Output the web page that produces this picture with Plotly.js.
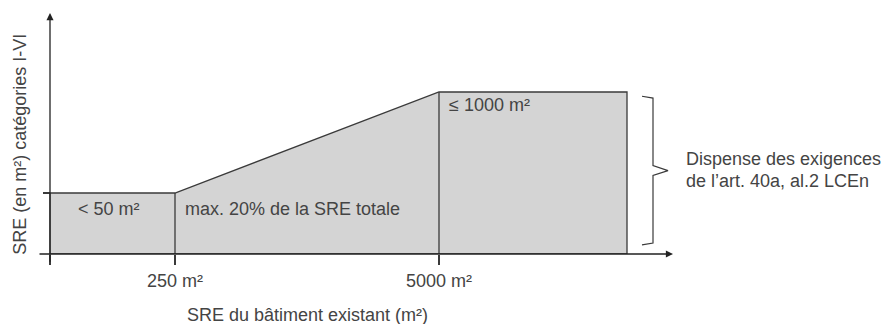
<!DOCTYPE html>
<html>
<head>
<meta charset="utf-8">
<script src="https://cdn.plot.ly/plotly-3.0.1.min.js"></script>
<style>html,body{margin:0;padding:0;background:#fff;}#chart{width:889px;height:324px;}</style>
</head>
<body>
<div id="chart"></div>
<script>
// Schematic x positions of the thresholds (origin, 250 m², 5000 m², end of chart)
const xStops = [0, 1, 3.112, 4.616];
const xTickLabels = ['', '250 m²', '5000 m²'];
// Schematic y levels: lower step (< 50 m²) and upper plateau (≤ 1000 m²)
const yLevels = [1, 2.656];
const zoneLabels = ['< 50 m²', 'max. 20% de la SRE totale', '≤ 1000 m²'];
const xTitle = 'SRE du bâtiment existant (m²)';
const yTitle = 'SRE (en m²) catégories I-VI';
const braceText = ['Dispense des exigences', 'de l’art. 40a, al.2 LCEn'];

const lineCol = '#3a3a3a';
const fillCol = '#d4d4d4';
const txtCol = '#444444';
const fnt = {family: 'Liberation Sans, Arial, sans-serif', size: 18, color: txtCol};

// Filled area polygon
const polyX = [xStops[0], xStops[0], xStops[1], xStops[2], xStops[3], xStops[3], xStops[0]];
const polyY = [0, yLevels[0], yLevels[0], yLevels[1], yLevels[1], 0, 0];

const traces = [
  {x: polyX, y: polyY, mode: 'lines', fill: 'toself', fillcolor: fillCol,
   line: {color: lineCol, width: 1.3}, hoverinfo: 'skip', cliponaxis: false},
  {x: [xStops[1], xStops[1]], y: [0, yLevels[0]], mode: 'lines',
   line: {color: lineCol, width: 1.3}, hoverinfo: 'skip'},
  {x: [xStops[2], xStops[2]], y: [0, yLevels[1]], mode: 'lines',
   line: {color: lineCol, width: 1.3}, hoverinfo: 'skip'}
];

// Brace to the right of the last box
const bx0 = xStops[3] + 0.12, bx1 = bx0 + 0.088, btip = bx1 + 0.12;
const bTop = yLevels[1] - 0.1, bBot = 0.18, bMid = (bTop + bBot) / 2;
traces.push({
  x: [bx0, bx1, bx1, btip, bx1, bx1, bx0],
  y: [bTop + 0.03, bTop, bMid + 0.08, bMid, bMid - 0.08, bBot, bBot - 0.03],
  mode: 'lines', line: {color: lineCol, width: 1.2}, hoverinfo: 'skip', cliponaxis: false
});

const xmin = -0.4, xmax = 6.712, ymax = 3.951;

const annotations = [
  // y axis arrow
  {x: 0, y: ymax, ax: 0, ay: -0.15, xref: 'x', yref: 'y', axref: 'x', ayref: 'y',
   showarrow: true, arrowhead: 2, arrowsize: 1.1, arrowwidth: 1.3, arrowcolor: '#222', text: ''},
  // x axis arrow
  {x: 4.984, y: 0, ax: -0.096, ay: 0, xref: 'x', yref: 'y', axref: 'x', ayref: 'y',
   showarrow: true, arrowhead: 2, arrowsize: 1.1, arrowwidth: 1.3, arrowcolor: '#222', text: ''},
  {x: (xStops[0] + xStops[1]) / 2 - 0.03, y: yLevels[0] * 0.74, xref: 'x', yref: 'y', text: zoneLabels[0],
   showarrow: false, font: fnt, xanchor: 'center', yanchor: 'middle'},
  {x: xStops[1] + 0.06, y: yLevels[0] * 0.74, xref: 'x', yref: 'y', text: zoneLabels[1],
   showarrow: false, font: fnt, xanchor: 'left', yanchor: 'middle'},
  {x: xStops[2] + 0.06, y: yLevels[1] - 0.21, xref: 'x', yref: 'y', text: zoneLabels[2],
   showarrow: false, font: fnt, xanchor: 'left', yanchor: 'middle'},
  {x: 2.056, y: -0.253, xref: 'x', yref: 'paper', text: xTitle,
   showarrow: false, font: fnt, xanchor: 'center', yanchor: 'middle'},
  {x: -0.24, y: 1.79, xref: 'x', yref: 'y', text: yTitle, textangle: -90,
   showarrow: false, font: fnt, xanchor: 'center', yanchor: 'middle'},
  {x: 5.07, y: 1.56, xref: 'x', yref: 'y', text: braceText[0],
   showarrow: false, font: fnt, xanchor: 'left', yanchor: 'middle'},
  {x: 5.07, y: 1.205, xref: 'x', yref: 'y', text: braceText[1],
   showarrow: false, font: fnt, xanchor: 'left', yanchor: 'middle'}
];

const layout = {
  width: 889, height: 324,
  margin: {l: 0, r: 0, t: 13, b: 70},
  paper_bgcolor: '#fff', plot_bgcolor: 'rgba(0,0,0,0)',
  showlegend: false,
  xaxis: {range: [xmin, xmax], showgrid: false, zeroline: false, showline: false,
    tickmode: 'array', tickvals: xStops.slice(0, 3), ticktext: xTickLabels,
    ticks: 'outside', ticklen: 10, tickwidth: 1.3, tickcolor: lineCol,
    tickfont: fnt, fixedrange: true},
  yaxis: {range: [0, ymax], showgrid: false, zeroline: false, showline: false,
    anchor: 'free', position: 50 / 889, side: 'left',
    tickmode: 'array', tickvals: [yLevels[0]], ticktext: [''],
    ticks: 'outside', ticklen: 7, tickwidth: 1.3, tickcolor: lineCol, fixedrange: true},
  annotations: annotations
};

Plotly.newPlot('chart', traces, layout, {displayModeBar: false, staticPlot: true});
</script>
</body>
</html>
